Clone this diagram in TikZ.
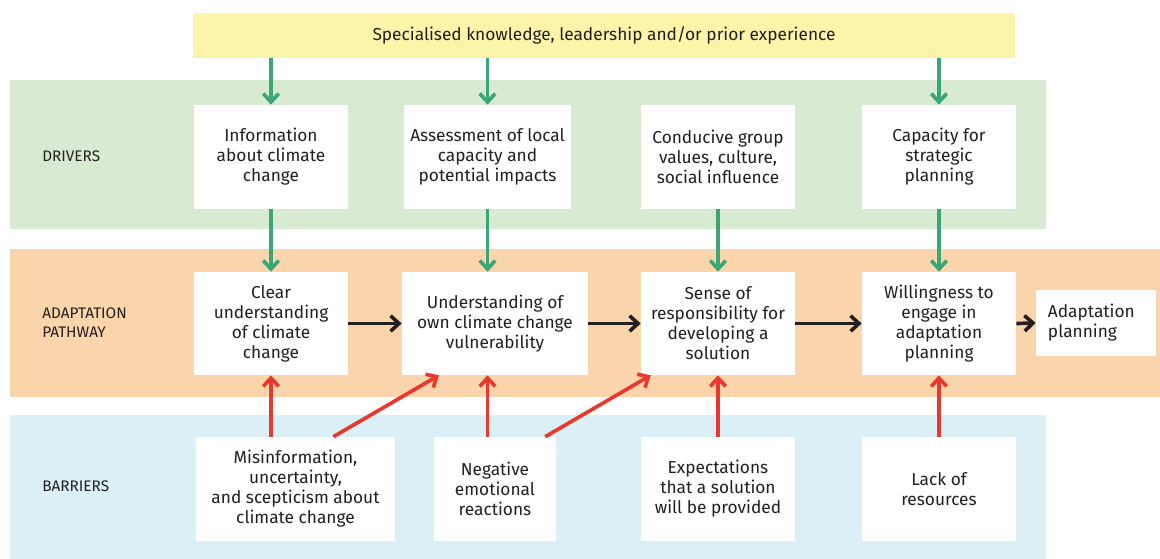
\documentclass[tikz,border=0pt]{standalone}
\usepackage{fontspec}
\setmainfont{Fira Sans}
\usetikzlibrary{arrows.meta,calc}

\definecolor{bandyellow}{HTML}{FBF4A9}
\definecolor{bandgreen}{HTML}{D9EAD3}
\definecolor{bandorange}{HTML}{FAD4AB}
\definecolor{bandblue}{HTML}{DAEFF6}
\definecolor{arrowgreen}{HTML}{3AA677}
\definecolor{arrowred}{HTML}{E8392F}
\definecolor{arrowblack}{HTML}{231F20}

\begin{document}
\begin{tikzpicture}[
    x=0.025cm, y=-0.025cm,
    box/.style={fill=white, align=center, inner sep=2pt, text=arrowblack,
        font=\fontsize{12.3}{14.2}\selectfont, minimum height=2.6cm},
    bandlabel/.style={anchor=west, align=left, inner sep=0pt, text=arrowblack,
        font=\fontsize{10.9}{13.5}\selectfont},
    arr/.style={line width=2.6pt, -{Straight Barb[length=6pt, width=11pt]}},
    drivearrow/.style={arr, arrowgreen},
    patharrow/.style={arr, arrowblack},
    barrierarrow/.style={arr, arrowred}
        ]

    \path [use as bounding box] (0,0) rectangle (1160,559);

    % bands
    \fill [bandgreen]  (10,80)  rectangle (1046,229);
    \fill [bandorange] (10,249) rectangle (1160,397);
    \fill [bandblue]   (10,415) rectangle (1046,559);

    \node [fill=bandyellow, minimum width=20.55cm, minimum height=1.125cm,
        font=\fontsize{12.3}{14.2}\selectfont, text=arrowblack]
        (top) at (604,35.5) {Specialised knowledge, leadership and/or prior experience};

    \node [bandlabel] (ldrivers) at (42,156) {DRIVERS};
    \node [bandlabel] (lpathway) at (42,323) {ADAPTATION\\PATHWAY};
    \node [bandlabel] (lbarriers) at (42,486) {BARRIERS};

    % drivers
    \node [box, minimum width=3.85cm]  (d1) at (271,157)   {Information\\about climate\\change};
    \node [box, minimum width=4.175cm] (d2) at (487.5,157) {Assessment of local\\capacity and\\potential impacts};
    \node [box, minimum width=3.85cm]  (d3) at (718,157)   {Conducive group\\values, culture,\\social influence};
    \node [box, minimum width=3.85cm]  (d4) at (939,157)   {Capacity for\\strategic\\planning};

    % adaptation pathway
    \node [box, minimum width=3.85cm, minimum height=2.575cm] (a1) at (271,323.5) {Clear\\understanding\\of climate\\change};
    \node [box, minimum width=4.65cm, minimum height=2.575cm] (a2) at (495,323.5) {Understanding of\\own climate change\\vulnerability};
    \node [box, minimum width=3.85cm, minimum height=2.575cm] (a3) at (718,323.5) {Sense of\\responsibility for\\developing a\\solution};
    \node [box, minimum width=3.85cm, minimum height=2.575cm] (a4) at (939,323.5) {Willingness to\\engage in\\adaptation\\planning};
    \node [box, align=left, text width=2.4cm, inner xsep=0.3cm, minimum height=1.65cm]
        (a5) at (1096,323) {Adaptation\\planning};

    % barriers
    \node [box, minimum width=4.975cm] (b1) at (295.5,489) {Misinformation,\\uncertainty,\\and scepticism about\\climate change};
    \node [box, minimum width=3.05cm]  (b2) at (495,489)   {Negative\\emotional\\reactions};
    \node [box, minimum width=3.85cm]  (b3) at (718,489)   {Expectations\\that a solution\\will be provided};
    \node [box, minimum width=3.85cm]  (b4) at (939,489)   {Lack of\\resources};

    \draw [drivearrow] (top.south -| d1.north) -- (d1.north);
    \draw [drivearrow] (top.south -| d2.north) -- (d2.north);
    \draw [drivearrow] (top.south -| d4.north) -- (d4.north);

    \draw [drivearrow] (d1.south) -- (a1.north);
    \draw [drivearrow] (d2.south) -- (d2.south |- a2.north);
    \draw [drivearrow] (d3.south) -- (a3.north);
    \draw [drivearrow] (d4.south) -- (a4.north);

    \draw [patharrow] (a1.east) -- (a2.west);
    \draw [patharrow] (a2.east) -- (a3.west);
    \draw [patharrow] (a3.east) -- (a4.west);
    \draw [patharrow] (a4.east) -- (a5.west);

    \draw [barrierarrow] (b1.north -| a1.south) -- (a1.south);
    \draw [barrierarrow] (b2.north -| d2.south) -- (a2.south -| d2.south);
    \draw [barrierarrow] (b3.north) -- (a3.south);
    \draw [barrierarrow] (b4.north) -- (a4.south);

    \draw [barrierarrow] ($(b1.north west)!0.69!(b1.north east)$) -- ($(a2.south west)!0.2!(a2.south east)$);
    \draw [barrierarrow] ($(b2.north west)!0.91!(b2.north east)$) -- ($(a3.south west)!0.065!(a3.south east)$);

\end{tikzpicture}
\end{document}
